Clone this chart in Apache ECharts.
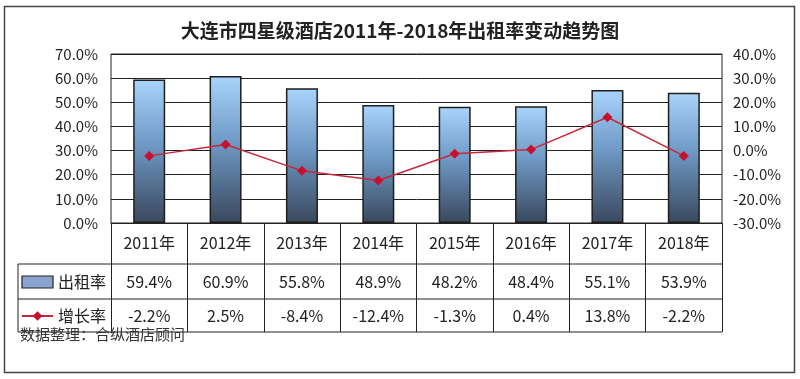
<!DOCTYPE html>
<html><head><meta charset="utf-8">
<script src="https://cdn.jsdelivr.net/npm/echarts@6/dist/echarts.min.js"></script>
<style>html,body{margin:0;padding:0;background:#fff}#c{width:800px;height:379px}</style>
</head><body><div id="c"></div>
<script>
const categories = ['2011年','2012年','2013年','2014年','2015年','2016年','2017年','2018年'];
const occupancy = [59.4, 60.9, 55.8, 48.9, 48.2, 48.4, 55.1, 53.9];
const growth = [-2.2, 2.5, -8.4, -12.4, -1.3, 0.4, 13.8, -2.2];
const leftTicks = [0, 70, 10];   // min, max, interval
const rightTicks = [-30, 40, 10];

const FONT = '"Noto Sans CJK SC", "Noto Sans", sans-serif';
const G = {left: 111, right: 722, top: 54, bottom: 223};
const tableBottom = 332, row1 = 264, row2 = 299, tableLeft = 18;
const lineCol = '#222';

const chart = echarts.init(document.getElementById('c'));
const pct = v => v.toFixed(1) + '%';
const rowAxis = (arr, margin) => ({
  type: 'category', data: categories, position: 'bottom', gridIndex: 0,
  axisLine: {show: false}, axisTick: {show: false},
  axisLabel: {margin, fontSize: 16, color: '#222', fontFamily: FONT,
    formatter: (v, i) => pct(arr[i])}
});

chart.setOption({
  animation: false,
  title: {text: '大连市四星级酒店2011年-2018年出租率变动趋势图', left: 'center', top: 16,
    textStyle: {fontSize: 19, fontWeight: 'bold', color: '#222', fontFamily: FONT}},
  grid: {left: G.left, right: 800 - G.right, top: G.top, bottom: 379 - G.bottom,
    show: true, borderColor: lineCol, borderWidth: 1, backgroundColor: '#fff'},
  legend: {orient: 'vertical', left: 21, top: 274, padding: 0, itemWidth: 31, itemHeight: 12, itemGap: 18,
    textStyle: {fontSize: 16, color: '#222', fontFamily: FONT},
    data: [{name: '出租率', icon: 'rect', itemStyle: {color: '#8aa4cf', borderColor: '#222', borderWidth: 1.2}},
           {name: '增长率'}]},
  xAxis: [
    {type: 'category', data: categories, position: 'bottom',
      axisLine: {lineStyle: {color: lineCol, width: 1}},
      axisTick: {show: true, length: tableBottom - G.bottom, inside: false, interval: 0,
        lineStyle: {color: lineCol, width: 1}},
      axisLabel: {margin: 12, fontSize: 16, color: '#222', fontFamily: FONT}},
    rowAxis(occupancy, 51),
    rowAxis(growth, 85)
  ],
  yAxis: [
    {type: 'value', min: leftTicks[0], max: leftTicks[1], interval: leftTicks[2],
      axisLine: {show: false}, axisTick: {show: false},
      axisLabel: {margin: 13, fontSize: 15, color: '#222', fontFamily: FONT, formatter: v => pct(v)},
      splitLine: {lineStyle: {color: lineCol, width: 1}}},
    {type: 'value', min: rightTicks[0], max: rightTicks[1], interval: rightTicks[2],
      axisLine: {show: false}, axisTick: {show: false},
      axisLabel: {margin: 11, fontSize: 15, color: '#222', fontFamily: FONT, formatter: v => pct(v)},
      splitLine: {show: false}}
  ],
  series: [
    {name: '出租率', type: 'bar', data: occupancy, barWidth: 32, xAxisIndex: 0, yAxisIndex: 0,
      itemStyle: {borderColor: '#1e1e1e', borderWidth: 1.5,
        color: new echarts.graphic.LinearGradient(0, 0, 0, 1, [
          {offset: 0, color: '#a9d4fb'}, {offset: 0.45, color: '#6f99c6'}, {offset: 1, color: '#39485c'}])}},
    {name: '增长率', type: 'line', data: growth, xAxisIndex: 0, yAxisIndex: 1,
      symbol: 'diamond', symbolSize: 10, z: 5,
      lineStyle: {color: '#c8283a', width: 1.5},
      itemStyle: {color: '#c8102e'}}
  ],
  graphic: [
    {type: 'line', shape: {x1: tableLeft, y1: row1, x2: G.right, y2: row1}, style: {stroke: lineCol, lineWidth: 1}},
    {type: 'line', shape: {x1: tableLeft, y1: row2, x2: G.right, y2: row2}, style: {stroke: lineCol, lineWidth: 1}},
    {type: 'line', shape: {x1: tableLeft, y1: tableBottom, x2: G.right, y2: tableBottom}, style: {stroke: lineCol, lineWidth: 1}},
    {type: 'line', shape: {x1: tableLeft, y1: row1, x2: tableLeft, y2: tableBottom}, style: {stroke: lineCol, lineWidth: 1}},
    {type: 'rect', shape: {x: 4.5, y: 6.5, width: 790, height: 366}, style: {fill: null, stroke: '#444', lineWidth: 1.5}, z: -1},
    {type: 'text', left: 20, top: 327, z: 10,
      style: {text: '数据整理：合纵酒店顾问', fontSize: 15, fill: '#333', fontFamily: FONT}}
  ]
});
</script></body></html>
